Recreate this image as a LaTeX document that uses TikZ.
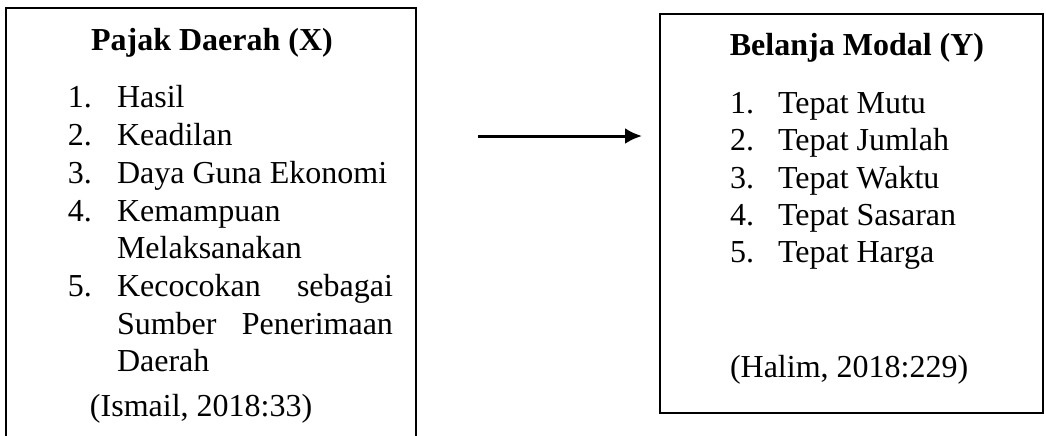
\documentclass[tikz,border=0pt]{standalone}
\usepackage{fontspec}
\setmainfont{Liberation Serif}
\usetikzlibrary{arrows.meta}
\begin{document}
\begin{tikzpicture}[x=0.5pt,y=-0.5pt,
  frame/.style={line width=1.2pt,draw=black},
  txt/.style={anchor=base west,inner sep=0pt,outer sep=0pt,font=\fontsize{16}{18}\selectfont},
  ttl/.style={anchor=base,inner sep=0pt,font=\fontsize{16}{18}\selectfont\bfseries},
  link/.style={line width=1.5pt,-{Latex[length=8.5pt,width=8pt]}}]
\useasboundingbox (0,0) rectangle (1046,435);
% left box (open at the bottom)
\draw[frame] (6,440) -- (6,8) -- (416,8) -- (416,440);
\node[ttl] (tx) at (212,50) {Pajak Daerah (X)};
\node[txt] (l1n) at (68,107) {1.};  \node[txt] (l1) at (117,107) {Hasil};
\node[txt] (l2n) at (68,145) {2.}; \node[txt] (l2) at (117,145) {Keadilan};
\node[txt] (l3n) at (68,183) {3.}; \node[txt] (l3) at (117,183) {Daya Guna Ekonomi};
\node[txt] (l4n) at (68,221) {4.}; \node[txt] (l4) at (117,221) {Kemampuan};
\node[txt] (l4b) at (117,258) {Melaksanakan};
\node[txt] (l5n) at (68,296) {5.}; \node[txt] (l5) at (117,296) {\makebox[138pt][s]{Kecocokan\hfill sebagai}};
\node[txt] (l5b) at (117,334) {\makebox[138pt][s]{Sumber\hfill Penerimaan}};
\node[txt] (l5c) at (117,371) {Daerah};
\node[txt] (lsrc) at (90,416) {(Ismail, 2018:33)};
% right box
\draw[frame] (660,14) rectangle (1043,413);
\node[ttl] (ty) at (857,55) {Belanja Modal (Y)};
\node[txt] (r1n) at (730,113) {1.}; \node[txt] (r1) at (778,113) {Tepat Mutu};
\node[txt] (r2n) at (730,150) {2.}; \node[txt] (r2) at (778,150) {Tepat Jumlah};
\node[txt] (r3n) at (730,188) {3.}; \node[txt] (r3) at (778,188) {Tepat Waktu};
\node[txt] (r4n) at (730,225) {4.}; \node[txt] (r4) at (778,225) {Tepat Sasaran};
\node[txt] (r5n) at (730,262) {5.}; \node[txt] (r5) at (778,262) {Tepat Harga};
\node[txt] (rsrc) at (730,377) {(Halim, 2018:229)};
% arrow
\coordinate (as) at (478,136);
\coordinate (ae) at (642,136);
\draw[link] (as) -- (ae);
\end{tikzpicture}
\end{document}
